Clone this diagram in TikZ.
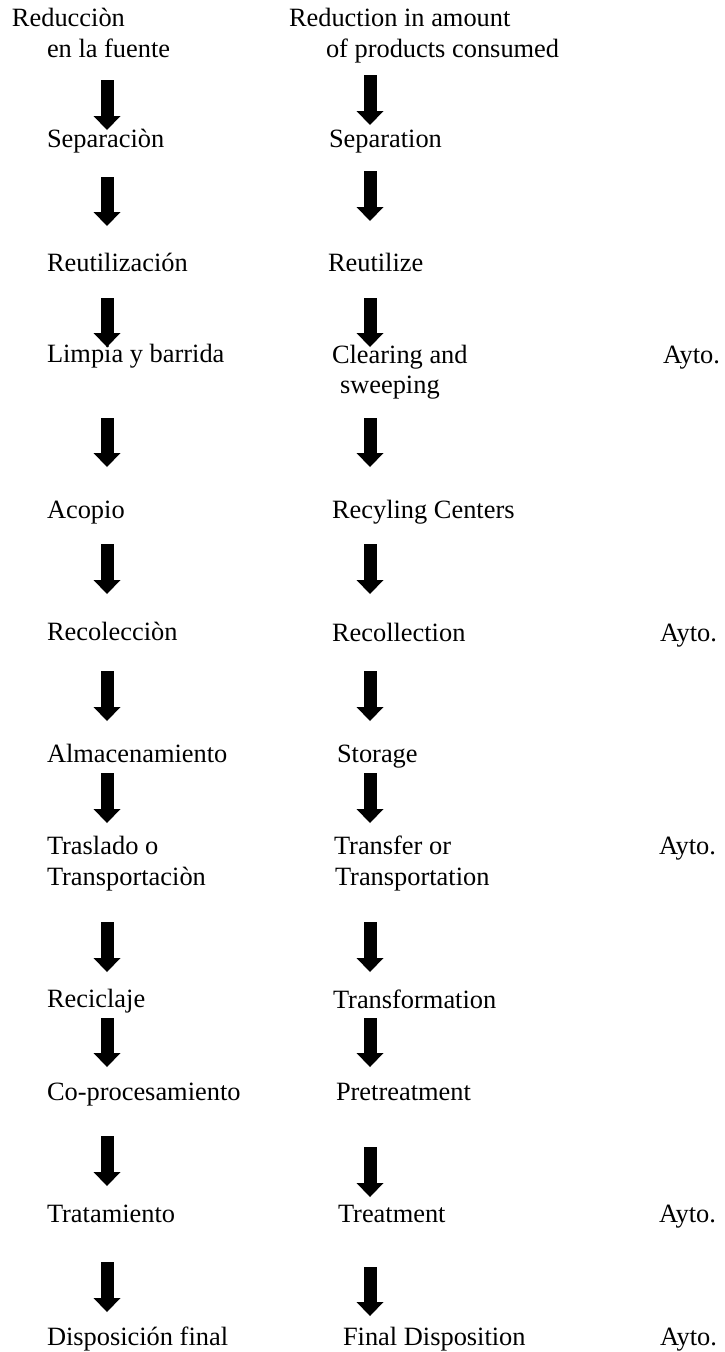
\documentclass[tikz,border=0pt]{standalone}
\usepackage{fontspec}
\setmainfont{Liberation Serif}
\usetikzlibrary{arrows.meta}
\tikzset{
  lbl/.style={anchor=base west, inner sep=0pt, outer sep=0pt, font=\fontsize{26.4}{30.5}\selectfont, text=black},
  blockarrow/.style={line width=13pt, line cap=butt, black,
    -{Triangle[width=27pt,length=14pt,line width=0pt]}}
}
\begin{document}
\begin{tikzpicture}[x=1pt,y=-1pt]
\useasboundingbox (0,0) rectangle (724,1352);
\fill[white] (0,0) rectangle (724,1352);
% left column
\node[lbl] (l0a) at (12,26) {Reducciòn};
\node[lbl] (l0b) at (47,57) {en la fuente};
\node[lbl] (l1) at (47,147) {Separaciòn};
\node[lbl] (l2) at (47,271) {Reutilización};
\node[lbl] (l3) at (47,362) {Limpia y barrida};
\node[lbl] (l4) at (47,518) {Acopio};
\node[lbl] (l5) at (47,640) {Recolecciòn};
\node[lbl] (l6) at (47,762) {Almacenamiento};
\node[lbl] (l7a) at (47,854) {Traslado o};
\node[lbl] (l7b) at (47,885) {Transportaciòn};
\node[lbl] (l8) at (47,1007) {Reciclaje};
\node[lbl] (l9) at (47,1100) {Co-procesamiento};
\node[lbl] (l10) at (47,1222) {Tratamiento};
\node[lbl] (l11) at (47,1345) {Disposición final};
% right column
\node[lbl] (r0a) at (289,26) {Reduction in amount};
\node[lbl] (r0b) at (326,57) {of products consumed};
\node[lbl] (r1) at (329,147) {Separation};
\node[lbl] (r2) at (328,271) {Reutilize};
\node[lbl] (r3a) at (332,363) {Clearing and};
\node[lbl] (r3b) at (340,393) {sweeping};
\node[lbl] (r4) at (332,518) {Recyling Centers};
\node[lbl] (r5) at (332,641) {Recollection};
\node[lbl] (r6) at (337,762) {Storage};
\node[lbl] (r7a) at (334,854) {Transfer or};
\node[lbl] (r7b) at (335,885) {Transportation};
\node[lbl] (r8) at (333,1008) {Transformation};
\node[lbl] (r9) at (336,1100) {Pretreatment};
\node[lbl] (r10) at (338,1222) {Treatment};
\node[lbl] (r11) at (343,1345) {Final Disposition};
% Ayto.
\node[lbl] (ay3) at (663,363) {Ayto.};
\node[lbl] (ay5) at (660,641) {Ayto.};
\node[lbl] (ay7) at (659,854) {Ayto.};
\node[lbl] (ay10) at (659,1222) {Ayto.};
\node[lbl] (ay11) at (660,1345) {Ayto.};
% left arrows
\foreach \i/\t/\b in {1/80/130, 2/177/226, 3/298/347, 4/418/467, 5/544/594, 6/671/721, 7/773/823, 8/922/972, 9/1018/1067, 10/1136/1186, 11/1262/1312}{
  \coordinate (la\i s) at (107,\t);
  \coordinate (la\i e) at (107,\b);
  \draw[blockarrow] (la\i s) -- (la\i e);
}
% right arrows
\foreach \i/\t/\b in {1/75/125, 2/171/221, 3/298/347, 4/418/467, 5/544/594, 6/671/721, 7/773/823, 8/922/972, 9/1018/1067, 10/1147/1197, 11/1267/1316}{
  \coordinate (ra\i s) at (370,\t);
  \coordinate (ra\i e) at (370,\b);
  \draw[blockarrow] (ra\i s) -- (ra\i e);
}
\end{tikzpicture}
\end{document}
